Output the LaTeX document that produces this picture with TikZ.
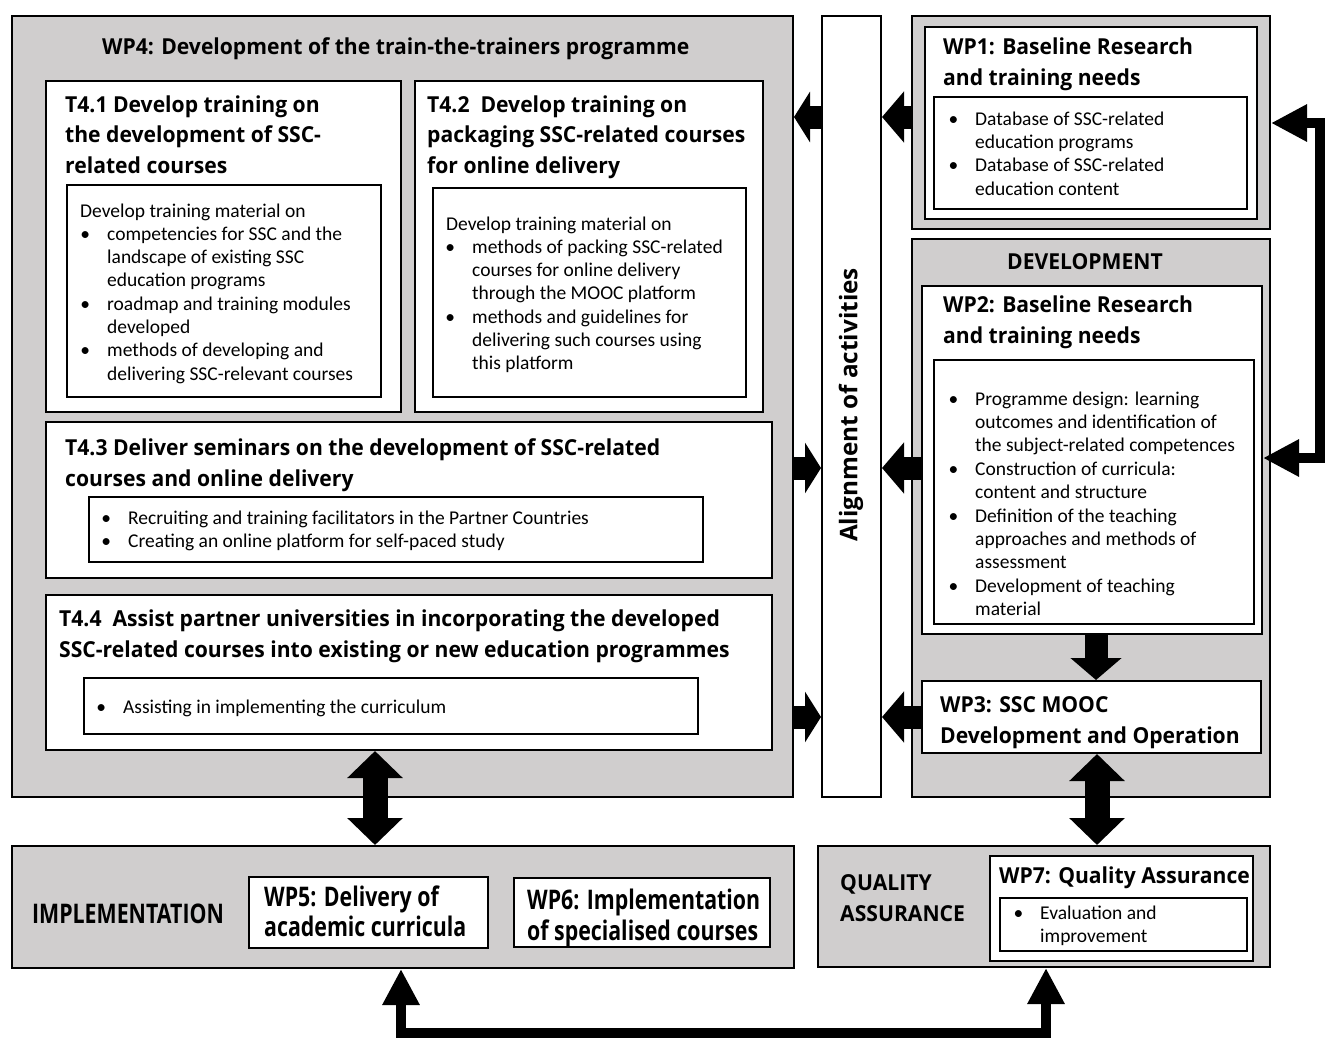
\documentclass[tikz,border=0pt]{standalone}
\usepackage{fontspec}
\setmainfont{Carlito}
\newfontfamily\headfont[FakeStretch=0.96]{Open Sans}
\newfontfamily\alignfont{Open Sans}
\newfontfamily\narrowfont[FakeStretch=0.79]{Open Sans}
\usetikzlibrary{arrows.meta}
\definecolor{panelgray}{HTML}{D0CECE}

% rectangular box given by its corners (x1,y1) and (x2,y2)
\newcommand\boxnode[6]{%
  \node[#6, anchor=north west, minimum width={(#4)-(#2)}, minimum height={(#5)-(#3)}] (#1) at (#2,#3) {};}
% one node per text line: name, x, first baseline, leading, style, lines
\newcommand\textlines[6]{%
  \foreach \ln [count=\i from 0] in {#6}{%
    \node[#5, anchor=base west] (#1-\i) at (#2,{#3+\i*#4}) {\ln};}}
% bullet hanging to the left of a list line
\newcommand\bl{\llap{\textbullet\hspace{17pt}}}

\begin{document}
\begin{tikzpicture}[x=1pt, y=-1pt,
  panel/.style={rectangle, draw=black, line width=2pt, fill=panelgray, inner sep=0pt},
  card/.style={rectangle, draw=black, line width=2pt, fill=white, inner sep=0pt},
  head/.style={font=\headfont\bfseries\fontsize{22}{26}\selectfont, inner sep=0pt},
  narrowhead/.style={font=\narrowfont\bfseries\fontsize{27}{30}\selectfont, inner sep=0pt},
  body/.style={font=\fontsize{19.5}{23}\selectfont, inner sep=0pt},
  blockarrow/.style={draw=black, line width=23pt, -{Triangle[width=50pt,length=16pt]}},
  widearrow/.style={draw=black, line width=23pt, -{Triangle[width=50pt,length=22pt]}},
  fatarrow/.style={draw=black, line width=25pt, {Triangle[width=54pt,length=27pt]}-{Triangle[width=54pt,length=27pt]}},
  link/.style={draw=black, line width=9.5pt, line join=miter, {Triangle[width=35pt,length=36pt]}-{Triangle[width=35pt,length=36pt]}}
]
\useasboundingbox (0,0) rectangle (1325,1037);

% ---------- panels ----------
\boxnode{wpfour}{11}{15}{792}{796}{panel}
\boxnode{align}{821}{15}{880}{796}{card}
\boxnode{wponeg}{911}{15}{1269}{228}{panel}
\boxnode{wpone}{924}{26}{1256}{218}{card}
\boxnode{wponein}{933}{96}{1246}{208}{card}
\boxnode{devel}{911}{238}{1269}{796}{panel}
\boxnode{wptwo}{921}{285}{1261}{633}{card}
\boxnode{wptwoin}{933}{359}{1253}{623}{card}
\boxnode{wpthree}{921}{680}{1260}{752}{card}
\boxnode{tone}{45}{80}{400}{411}{card}
\boxnode{tonein}{66}{184}{380}{396}{card}
\boxnode{ttwo}{414}{80}{762}{411}{card}
\boxnode{ttwoin}{432}{187}{745}{396}{card}
\boxnode{tthree}{45}{421}{771}{577}{card}
\boxnode{tthreein}{88}{496}{702}{561}{card}
\boxnode{tfour}{45}{594}{771}{749}{card}
\boxnode{tfourin}{83}{677}{697}{733}{card}
\boxnode{impl}{11}{845}{793}{967}{panel}
\boxnode{wpfive}{248}{876}{487}{947}{card}
\boxnode{wpsix}{513}{877}{769}{946}{card}
\boxnode{qa}{817}{845}{1269}{966}{panel}
\boxnode{wpseven}{989}{855}{1252}{960}{card}
\boxnode{wpsevenin}{999}{897}{1246}{950}{card}

% ---------- WP4 ----------
\node[head, anchor=base west] (wpfourtitle) at (102,54) {WP4: Development of the train-the-trainers programme};

\textlines{tonehead}{65}{112}{30.5}{head}{T4.1 Develop training on, the development of SSC-, related courses}
\textlines{tonebody}{80}{217}{23.3}{body}{Develop training material on}
\textlines{tonelist}{107}{240.3}{23.3}{body}{\bl competencies for SSC and the, landscape of existing SSC, education programs, \bl roadmap and training modules, developed, \bl methods of developing and, delivering SSC-relevant courses}

\textlines{ttwohead}{427}{112}{30.5}{head}{T4.2\ \ Develop training on, packaging SSC-related courses, for online delivery}
\textlines{ttwobody}{446}{230}{23.3}{body}{Develop training material on}
\textlines{ttwolist}{472}{253.3}{23.3}{body}{\bl methods of packing SSC-related, courses for online delivery, through the MOOC platform, \bl methods and guidelines for, delivering such courses using, this platform}

\textlines{tthreehead}{65}{455}{31}{head}{T4.3 Deliver seminars on the development of SSC-related, courses and online delivery}
\textlines{tthreelist}{128}{524}{23.5}{body}{\bl Recruiting and training facilitators in the Partner Countries, \bl Creating an online platform for self-paced study}

\textlines{tfourhead}{59}{626}{31}{head}{T4.4\ \ Assist partner universities in incorporating the developed, SSC-related courses into existing or new education programmes}
\textlines{tfourlist}{123}{713}{23.5}{body}{\bl Assisting in implementing the curriculum}

% ---------- alignment column ----------
\node[font=\alignfont\bfseries\fontsize{24.3}{28}\selectfont, inner sep=0pt, rotate=90] (aligntext) at (851,405) {Alignment of activities};

% ---------- WP1 ----------
\textlines{wponehead}{943}{54}{31}{head}{WP1: Baseline Research, and training needs}
\textlines{wponelist}{975}{125}{23.4}{body}{\bl Database of SSC-related, education programs, \bl Database of SSC-related, education content}

% ---------- development ----------
\node[head, anchor=base] (develtitle) at (1085,269) {DEVELOPMENT};
\textlines{wptwohead}{943}{312}{31}{head}{WP2: Baseline Research, and training needs}
\textlines{wptwolist}{975}{405}{23.4}{body}{\bl Programme design: learning, outcomes and identification of, the subject-related competences, \bl Construction of curricula:, content and structure, \bl Definition of the teaching, approaches and methods of, assessment, \bl Development of teaching, material}
\textlines{wpthreehead}{940}{712}{31}{head}{WP3: SSC MOOC, Development and Operation}

% ---------- implementation ----------
\node[narrowhead, anchor=base] (impltitle) at (128,923) {IMPLEMENTATION};
\textlines{wpfivehead}{264}{906}{30.5}{narrowhead}{WP5: Delivery of, academic curricula}
\textlines{wpsixhead}{527}{909}{31}{narrowhead}{WP6: Implementation, of specialised courses}

% ---------- quality assurance ----------
\textlines{qatitle}{840}{890}{31}{head}{QUALITY, ASSURANCE}
\textlines{wpsevenhead}{999}{883}{31}{head}{WP7: Quality Assurance}
\textlines{wpsevenlist}{1040}{919}{23.4}{body}{\bl Evaluation and, improvement}

% ---------- block arrows ----------
\draw[blockarrow] (align.west |- 0,117) -- (wpfour.east |- 0,117);
\draw[widearrow] (wponeg.west |- 0,117) -- (align.east |- 0,117);
\draw[blockarrow] (wpfour.east |- 0,468) -- (align.west |- 0,468);
\draw[widearrow] (wptwo.west |- 0,468) -- (align.east |- 0,468);
\draw[blockarrow] (wpfour.east |- 0,717) -- (align.west |- 0,717);
\draw[widearrow] (wpthree.west |- 0,717) -- (align.east |- 0,717);
\draw[widearrow] (wptwo.south -| 1096,0) -- (wpthree.north -| 1096,0);
\draw[fatarrow] (wpthree.south -| 1097,0) -- (qa.north -| 1097,0);
\draw[fatarrow] (tfour.south -| 375,0) -- (impl.north -| 375,0);

% ---------- feedback links ----------
\draw[link] (wponeg.east |- 0,123) -- ++(49,0) |- (wptwo.east |- 0,458);
\draw[link] (impl.south -| 401,0) -- ++(0,64) -| (qa.south -| 1046,0);
\end{tikzpicture}
\end{document}
